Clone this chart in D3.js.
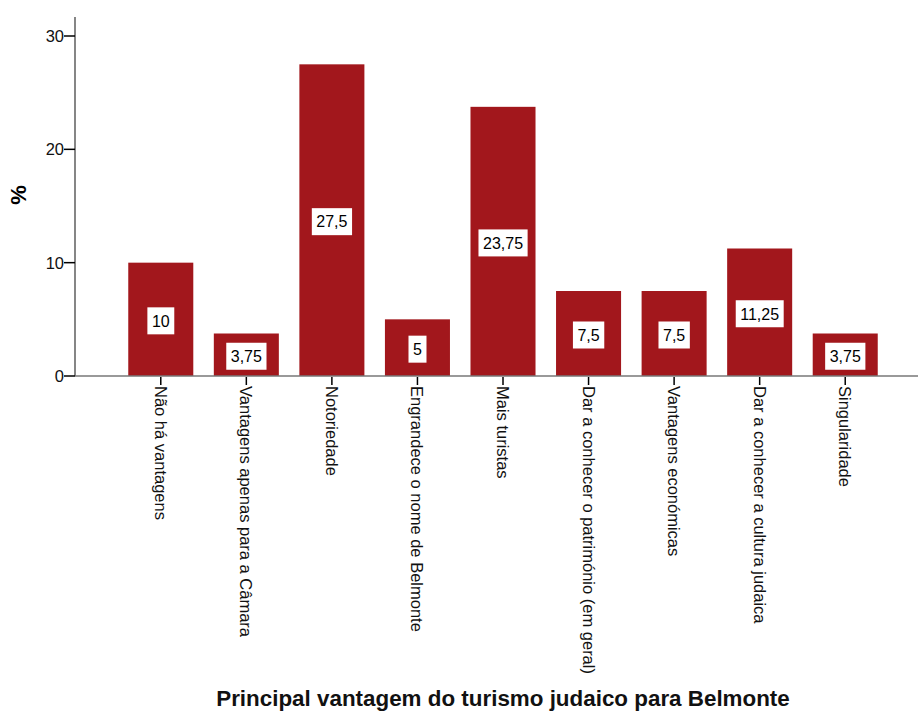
<!DOCTYPE html>
<html>
<head>
<meta charset="utf-8">
<script src="https://cdn.jsdelivr.net/npm/d3@7"></script>
<style>
  body { margin: 0; background: #fff; }
  svg { display: block; font-family: Arial, "Liberation Sans", sans-serif; }
</style>
</head>
<body>
<div class="chart"></div>
<script>
// data
let categories = [
  "Não há vantagens",
  "Vantagens apenas para a Câmara",
  "Notoriedade",
  "Engrandece o nome de Belmonte",
  "Mais turistas",
  "Dar a conhecer o património (em geral)",
  "Vantagens económicas",
  "Dar a conhecer a cultura judaica",
  "Singularidade"
];
let percents = [10, 3.75, 27.5, 5, 23.75, 7.5, 7.5, 11.25, 3.75];
let yTicks = [0, 10, 20, 30];

let width = 918, height = 711;
let axisLeft = 75, axisRight = 918;
let plotTop = 17, plotBottom = 376;

let svg = d3.select(".chart")
  .append("svg")
  .attr("width", width)
  .attr("height", height);

let x = d3.scaleBand()
  .domain(categories)
  .range([118, 888])
  .paddingInner(0.24)
  .paddingOuter(0.12);

let y = d3.scaleLinear()
  .domain([0, 30])
  .range([plotBottom, 36]);

let fmt = v => String(v).replace(".", ",");

// bars
svg.selectAll("rect.bar")
  .data(percents)
  .enter()
  .append("rect")
  .attr("class", "bar")
  .attr("x", (d, i) => x(categories[i]))
  .attr("y", d => y(d))
  .attr("width", x.bandwidth())
  .attr("height", d => y(0) - y(d))
  .attr("fill", "#a2171c");

// value labels in white boxes
let lab = svg.selectAll("g.lab")
  .data(percents)
  .enter()
  .append("g")
  .attr("class", "lab")
  .attr("transform", (d, i) => "translate(" + (x(categories[i]) + x.bandwidth() / 2) + "," + ((y(d) + y(0)) / 2 + 1.5) + ")");

lab.append("text")
  .attr("text-anchor", "middle")
  .attr("dy", "0.36em")
  .attr("font-size", 16)
  .attr("fill", "#000")
  .text(d => fmt(d));

lab.each(function() {
  let g = d3.select(this);
  let bb = g.select("text").node().getBBox();
  g.insert("rect", "text")
    .attr("x", bb.x - 4.5)
    .attr("y", -13.5)
    .attr("width", bb.width + 9)
    .attr("height", 27)
    .attr("fill", "#fff");
});

// y axis
svg.append("line")
  .attr("x1", axisLeft).attr("x2", axisLeft)
  .attr("y1", plotTop).attr("y2", plotBottom)
  .attr("stroke", "#444").attr("stroke-width", 1.3);

let yt = svg.selectAll("g.ytick")
  .data(yTicks)
  .enter()
  .append("g")
  .attr("transform", d => "translate(0," + y(d) + ")");

yt.append("line")
  .attr("x1", 64).attr("x2", axisLeft)
  .attr("stroke", "#000").attr("stroke-width", 1.5);

yt.append("text")
  .attr("x", 64)
  .attr("dy", "0.36em")
  .attr("text-anchor", "end")
  .attr("font-size", 16.5)
  .attr("fill", "#111")
  .text(d => d);

// x axis
svg.append("line")
  .attr("x1", axisLeft).attr("x2", axisRight)
  .attr("y1", plotBottom).attr("y2", plotBottom)
  .attr("stroke", "#777").attr("stroke-width", 1.5);

let xt = svg.selectAll("g.xtick")
  .data(categories)
  .enter()
  .append("g")
  .attr("transform", d => "translate(" + (x(d) + x.bandwidth() / 2) + "," + plotBottom + ")");

xt.append("line")
  .attr("y1", 1).attr("y2", 9)
  .attr("stroke", "#000").attr("stroke-width", 1.5);

xt.append("text")
  .attr("transform", "translate(0,10) rotate(90)")
  .attr("dy", "0.36em")
  .attr("text-anchor", "start")
  .attr("font-size", 16.5)
  .attr("fill", "#111")
  .text(d => d);

// axis titles
svg.append("text")
  .attr("transform", "translate(18,195) rotate(-90)")
  .attr("dy", "0.36em")
  .attr("text-anchor", "middle")
  .attr("font-size", 22)
  .attr("font-weight", "bold")
  .text("%");

svg.append("text")
  .attr("x", 503)
  .attr("y", 706)
  .attr("text-anchor", "middle")
  .attr("font-size", 22.4)
  .attr("font-weight", "bold")
  .attr("fill", "#111")
  .text("Principal vantagem do turismo judaico para Belmonte");
</script>
</body>
</html>
